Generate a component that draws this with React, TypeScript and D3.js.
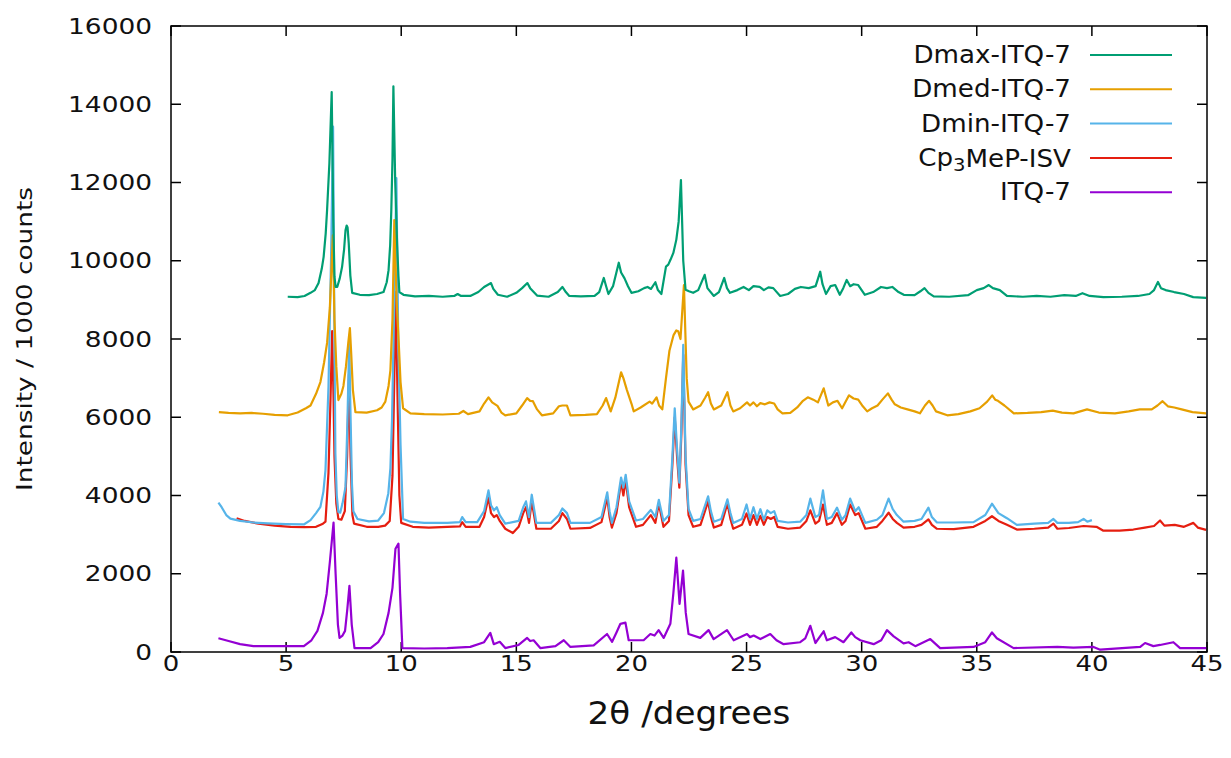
import React from "react";
import * as d3 from "d3";

type Pt = [number, number];

const xTicks = [0, 5, 10, 15, 20, 25, 30, 35, 40, 45];
const yTicks = [0, 2000, 4000, 6000, 8000, 10000, 12000, 14000, 16000];

const seriesNames = ["Dmax-ITQ-7", "Dmed-ITQ-7", "Dmin-ITQ-7", "Cp3MeP-ISV", "ITQ-7"];
const seriesColors = ["#009e73", "#e69f00", "#56b4e9", "#e51e10", "#9400d3"];

const dmaxData: Pt[] = [
[5.07,9080],[5.5,9070],[5.8,9100],[6.06,9180],[6.25,9250],[6.41,9430],[6.55,9800],[6.63,10100],[6.72,10700],[6.78,11300],[6.88,12500],[6.98,14310],[7.05,11000],[7.1,9600],[7.15,9330],[7.22,9330],[7.33,9550],[7.43,9840],[7.52,10300],[7.58,10780],[7.63,10900],[7.67,10850],[7.72,10450],[7.79,9620],[7.87,9180],[8.2,9130],[8.6,9120],[8.95,9150],[9.23,9200],[9.37,9450],[9.45,9760],[9.52,10400],[9.57,11300],[9.62,12600],[9.66,14460],[9.74,12000],[9.82,10450],[9.88,9600],[9.92,9200],[10.1,9130],[10.6,9090],[11.2,9100],[11.8,9080],[12.3,9100],[12.45,9150],[12.6,9100],[13.0,9100],[13.35,9200],[13.6,9330],[13.75,9380],[13.9,9430],[14.0,9280],[14.2,9130],[14.6,9080],[15.0,9180],[15.25,9300],[15.48,9430],[15.6,9300],[15.9,9110],[16.4,9080],[16.8,9200],[17.0,9330],[17.15,9200],[17.3,9100],[17.8,9090],[18.4,9100],[18.6,9200],[18.8,9560],[18.9,9350],[19.0,9150],[19.2,9350],[19.45,9950],[19.55,9700],[19.7,9550],[19.85,9350],[20.0,9180],[20.3,9220],[20.55,9300],[20.7,9330],[20.85,9280],[21.04,9450],[21.15,9250],[21.3,9150],[21.5,9850],[21.6,9900],[21.7,10030],[21.82,10200],[21.95,10540],[22.05,11000],[22.15,12060],[22.25,10000],[22.35,9260],[22.5,9220],[22.68,9180],[22.9,9250],[23.18,9640],[23.3,9300],[23.58,9100],[23.8,9200],[24.03,9560],[24.15,9300],[24.28,9180],[24.6,9250],[24.87,9330],[25.1,9250],[25.3,9350],[25.57,9330],[25.75,9250],[25.95,9320],[26.16,9300],[26.46,9100],[26.8,9150],[27.1,9280],[27.36,9330],[27.7,9300],[28.0,9350],[28.2,9720],[28.3,9400],[28.45,9150],[28.65,9350],[28.85,9380],[29.05,9130],[29.2,9300],[29.35,9510],[29.5,9350],[29.65,9400],[29.85,9380],[30.14,9130],[30.5,9200],[30.84,9330],[31.1,9300],[31.33,9330],[31.6,9200],[31.83,9130],[32.3,9120],[32.55,9220],[32.73,9300],[32.9,9180],[33.13,9090],[33.8,9080],[34.62,9120],[35.0,9250],[35.3,9300],[35.52,9380],[35.7,9300],[36.0,9250],[36.31,9100],[37.0,9080],[37.6,9100],[38.2,9080],[38.8,9120],[39.3,9100],[39.59,9170],[39.9,9100],[40.5,9070],[41.3,9080],[42.0,9100],[42.5,9150],[42.7,9250],[42.87,9460],[43.0,9300],[43.2,9250],[43.57,9200],[44.0,9150],[44.4,9070],[44.96,9050]
];

const dmedData: Pt[] = [
[2.08,6130],[2.5,6110],[3.0,6100],[3.5,6110],[4.0,6090],[4.5,6060],[5.07,6050],[5.5,6120],[5.86,6230],[6.06,6300],[6.3,6600],[6.49,6900],[6.65,7400],[6.78,7900],[6.9,8800],[7.03,10650],[7.1,8500],[7.18,7300],[7.27,6440],[7.4,6600],[7.49,6800],[7.6,7300],[7.7,7900],[7.77,8280],[7.83,7600],[7.9,6700],[8.01,6130],[8.5,6120],[8.95,6180],[9.15,6250],[9.31,6400],[9.45,6800],[9.53,7200],[9.62,8500],[9.7,11040],[9.8,9000],[9.9,7800],[9.97,6900],[10.08,6230],[10.4,6100],[11.0,6080],[11.8,6070],[12.5,6090],[12.7,6160],[12.9,6080],[13.4,6150],[13.6,6350],[13.79,6510],[13.95,6380],[14.18,6290],[14.35,6120],[14.52,6050],[15.0,6100],[15.25,6300],[15.47,6490],[15.6,6420],[15.72,6410],[15.9,6200],[16.11,6050],[16.6,6100],[16.85,6280],[17.0,6300],[17.2,6300],[17.35,6050],[18.0,6060],[18.5,6080],[18.75,6300],[18.9,6490],[19.1,6150],[19.3,6500],[19.55,7150],[19.65,7000],[19.8,6700],[20.0,6350],[20.1,6150],[20.4,6250],[20.79,6400],[20.9,6350],[21.09,6510],[21.2,6300],[21.34,6200],[21.5,7000],[21.65,7700],[21.83,8100],[21.95,8220],[22.03,8200],[22.13,8000],[22.28,9380],[22.4,7000],[22.48,6400],[22.68,6200],[23.0,6300],[23.2,6500],[23.33,6640],[23.45,6350],[23.58,6200],[23.9,6300],[24.17,6640],[24.3,6300],[24.42,6150],[24.72,6230],[25.02,6380],[25.15,6300],[25.3,6380],[25.45,6280],[25.6,6360],[25.8,6330],[26.0,6380],[26.2,6350],[26.35,6200],[26.56,6100],[26.9,6110],[27.2,6250],[27.45,6420],[27.66,6510],[27.9,6450],[28.1,6380],[28.35,6740],[28.55,6300],[28.75,6380],[28.95,6420],[29.15,6230],[29.45,6560],[29.65,6480],[29.85,6450],[30.05,6280],[30.24,6150],[30.45,6230],[30.69,6300],[30.9,6450],[31.14,6610],[31.3,6450],[31.44,6330],[31.7,6250],[31.99,6200],[32.3,6150],[32.53,6100],[32.75,6300],[32.93,6420],[33.08,6300],[33.23,6150],[33.72,6050],[34.2,6080],[34.72,6150],[35.12,6230],[35.45,6400],[35.67,6560],[35.8,6450],[35.92,6420],[36.2,6300],[36.61,6100],[37.2,6110],[37.8,6130],[38.3,6170],[38.7,6120],[39.2,6100],[39.79,6200],[40.3,6120],[41.0,6100],[41.6,6150],[42.08,6200],[42.6,6200],[42.85,6300],[43.07,6410],[43.3,6280],[43.58,6250],[43.9,6200],[44.37,6130],[44.96,6100]
];

const dminData: Pt[] = [
[2.06,3820],[2.2,3700],[2.4,3500],[2.58,3410],[3.0,3350],[3.58,3310],[4.2,3290],[5.0,3270],[5.77,3260],[6.06,3370],[6.3,3550],[6.49,3710],[6.62,4100],[6.71,4650],[6.84,6770],[6.95,10000],[7.04,13430],[7.1,8000],[7.14,5080],[7.2,4000],[7.27,3580],[7.35,3560],[7.45,3800],[7.58,4220],[7.66,5800],[7.74,7970],[7.8,6000],[7.86,4300],[7.92,3600],[8.1,3400],[8.6,3340],[9.0,3360],[9.25,3550],[9.44,4060],[9.53,4700],[9.6,5930],[9.7,9000],[9.79,12110],[9.87,8000],[9.97,5300],[10.08,3400],[10.4,3330],[11.0,3300],[12.0,3300],[12.55,3320],[12.65,3450],[12.8,3320],[13.3,3320],[13.6,3600],[13.79,4130],[13.9,3750],[14.03,3620],[14.15,3700],[14.28,3500],[14.52,3280],[15.1,3350],[15.3,3700],[15.42,3850],[15.55,3450],[15.67,4020],[15.87,3300],[16.5,3300],[16.85,3500],[17.0,3670],[17.2,3550],[17.35,3300],[18.2,3300],[18.7,3450],[18.95,4080],[19.05,3600],[19.15,3300],[19.35,3700],[19.55,4460],[19.65,4200],[19.75,4530],[19.9,3850],[20.2,3360],[20.5,3400],[20.84,3630],[21.04,3450],[21.19,3890],[21.39,3350],[21.63,3500],[21.78,5000],[21.88,6230],[21.98,5200],[22.08,4330],[22.17,5800],[22.25,7850],[22.35,5000],[22.48,3660],[22.68,3350],[23.0,3400],[23.33,3980],[23.45,3600],[23.58,3330],[23.9,3400],[24.17,3900],[24.3,3550],[24.42,3300],[24.8,3400],[25.0,3770],[25.15,3400],[25.3,3700],[25.45,3400],[25.6,3650],[25.75,3380],[25.9,3620],[26.05,3550],[26.2,3600],[26.35,3350],[26.8,3310],[27.33,3330],[27.6,3500],[27.77,3920],[27.99,3450],[28.15,3500],[28.32,4130],[28.49,3400],[28.7,3450],[28.93,3690],[29.14,3380],[29.3,3500],[29.5,3920],[29.72,3600],[29.87,3700],[30.16,3300],[30.66,3380],[30.9,3500],[31.17,3920],[31.35,3650],[31.53,3500],[31.82,3330],[32.3,3350],[32.6,3400],[32.9,3690],[33.05,3450],[33.27,3310],[34.0,3310],[34.86,3320],[35.37,3500],[35.66,3790],[35.94,3550],[36.31,3420],[36.74,3250],[37.5,3280],[38.1,3300],[38.33,3400],[38.5,3300],[39.0,3300],[39.4,3320],[39.64,3400],[39.8,3330],[40.0,3370]
];

const cp3Data: Pt[] = [
[2.85,3420],[3.2,3350],[3.8,3280],[4.5,3230],[5.2,3200],[5.8,3190],[6.3,3200],[6.6,3280],[6.71,3330],[6.84,4580],[6.93,6500],[7.0,8200],[7.06,6500],[7.1,5000],[7.18,3800],[7.27,3400],[7.4,3380],[7.55,3600],[7.65,5000],[7.73,7100],[7.8,5000],[7.88,3500],[7.95,3280],[8.5,3200],[9.0,3200],[9.3,3230],[9.5,3350],[9.62,4500],[9.7,7000],[9.76,9200],[9.84,6500],[9.92,4000],[10.0,3300],[10.5,3200],[11.2,3180],[12.0,3200],[12.55,3210],[12.65,3320],[12.8,3200],[13.4,3200],[13.6,3450],[13.79,3950],[13.9,3550],[14.03,3450],[14.15,3500],[14.28,3350],[14.52,3150],[14.85,3040],[15.1,3200],[15.3,3550],[15.42,3700],[15.55,3300],[15.67,3850],[15.87,3150],[16.5,3150],[16.85,3350],[17.0,3550],[17.2,3400],[17.35,3150],[18.2,3170],[18.7,3320],[18.95,3950],[19.05,3450],[19.15,3180],[19.35,3550],[19.55,4350],[19.65,4000],[19.75,4400],[19.9,3700],[20.2,3200],[20.5,3250],[20.84,3500],[21.04,3300],[21.19,3800],[21.39,3200],[21.63,3350],[21.78,4800],[21.88,6000],[21.98,5000],[22.08,4200],[22.17,5600],[22.25,7600],[22.35,4800],[22.48,3500],[22.68,3200],[23.0,3250],[23.33,3850],[23.45,3450],[23.58,3180],[23.9,3250],[24.17,3800],[24.3,3400],[24.42,3150],[24.8,3250],[25.0,3540],[25.15,3250],[25.3,3500],[25.45,3250],[25.6,3480],[25.75,3250],[25.9,3450],[26.05,3400],[26.2,3450],[26.35,3200],[26.8,3150],[27.33,3180],[27.6,3350],[27.77,3620],[27.99,3280],[28.15,3350],[28.32,3770],[28.49,3250],[28.7,3300],[28.93,3550],[29.14,3250],[29.3,3350],[29.5,3770],[29.72,3500],[29.87,3550],[30.16,3150],[30.66,3200],[30.9,3350],[31.17,3560],[31.35,3400],[31.53,3300],[31.82,3180],[32.3,3200],[32.6,3250],[32.9,3390],[33.05,3250],[33.27,3150],[34.0,3140],[34.86,3200],[35.37,3350],[35.66,3470],[35.94,3350],[36.31,3250],[36.74,3130],[37.5,3150],[38.1,3180],[38.33,3280],[38.5,3150],[39.0,3170],[39.64,3220],[40.2,3200],[40.5,3100],[41.2,3100],[41.8,3130],[42.3,3180],[42.7,3220],[42.96,3360],[43.15,3230],[43.6,3250],[44.0,3200],[44.41,3300],[44.6,3180],[44.96,3120]
];

const itq7Data: Pt[] = [
[2.06,350],[2.5,280],[3.0,200],[3.58,150],[4.5,150],[5.77,150],[6.1,300],[6.36,540],[6.6,1000],[6.76,1490],[6.9,2300],[7.06,3310],[7.15,2000],[7.25,700],[7.32,360],[7.45,420],[7.56,540],[7.66,1100],[7.75,1690],[7.85,700],[7.97,100],[8.67,100],[9.0,250],[9.23,460],[9.45,1000],[9.62,1640],[9.75,2640],[9.88,2770],[9.95,1500],[10.05,100],[11.0,90],[12.0,100],[13.0,130],[13.6,250],[13.87,490],[14.02,200],[14.28,260],[14.52,100],[15.1,180],[15.47,360],[15.6,280],[15.75,300],[16.04,100],[16.7,150],[17.06,300],[17.35,130],[18.36,170],[18.94,460],[19.16,260],[19.35,500],[19.52,720],[19.74,750],[19.88,300],[20.53,300],[20.82,460],[21.0,420],[21.18,560],[21.4,360],[21.69,720],[21.82,1500],[21.95,2410],[22.09,1230],[22.24,2080],[22.36,1000],[22.48,460],[22.99,360],[23.35,560],[23.57,330],[24.15,560],[24.44,300],[25.02,460],[25.15,380],[25.31,420],[25.6,330],[26.03,460],[26.3,300],[26.61,200],[27.33,250],[27.55,350],[27.77,670],[27.99,230],[28.35,530],[28.49,300],[28.85,380],[29.21,250],[29.55,500],[29.72,380],[29.94,300],[30.52,200],[30.85,300],[31.1,560],[31.39,400],[31.82,220],[32.04,250],[32.33,150],[32.98,330],[33.41,100],[34.86,130],[35.37,250],[35.66,500],[35.87,350],[36.6,100],[38.5,130],[39.2,110],[40.07,130],[40.36,60],[42.1,130],[42.31,230],[42.67,150],[42.96,180],[43.54,250],[43.83,100],[45.0,100]
];

const allData: Pt[][] = [dmaxData, dmedData, dminData, cp3Data, itq7Data];

const W = 1231;
const H = 758;
const M = { left: 171, right: 1207, top: 26, bottom: 652 };
const FONT = "'DejaVu Sans', sans-serif";

export default function App() {
  const x = d3.scaleLinear().domain([0, 45]).range([M.left, M.right]);
  const y = d3.scaleLinear().domain([0, 16000]).range([M.bottom, M.top]);
  const line = d3
    .line<Pt>()
    .x((d) => x(d[0]))
    .y((d) => y(d[1]));

  const drawOrder = [4, 3, 2, 1, 0];
  const tickLen = 10;
  const legendX1 = 1090;
  const legendX2 = 1172;
  const legendTextX = 1071;
  const legendY0 = 55;
  const legendDy = 34.3;

  return (
    <svg
      width={W}
      height={H}
      style={{ position: "absolute", left: 0, top: 0, background: "#fff" }}
      fontFamily={FONT}
    >
      <rect x={0} y={0} width={W} height={H} fill="#fff" />
      <defs>
        <clipPath id="plotclip">
          <rect x={M.left} y={M.top} width={M.right - M.left} height={M.bottom - M.top} />
        </clipPath>
      </defs>
      {xTicks.map((t) => (
        <g key={"xt" + t}>
          <line x1={x(t)} x2={x(t)} y1={M.bottom} y2={M.bottom - tickLen} stroke="#000" strokeWidth={1.5} />
          <line x1={x(t)} x2={x(t)} y1={M.top} y2={M.top + tickLen} stroke="#000" strokeWidth={1.5} />
          <text
            transform={`translate(${x(t)}, ${M.bottom + 19}) scale(1.18,1)`}
            textAnchor="middle"
            fontSize={22}
            fill="#111"
          >
            {t}
          </text>
        </g>
      ))}
      {yTicks.map((t) => (
        <g key={"yt" + t}>
          <line x1={M.left} x2={M.left + tickLen} y1={y(t)} y2={y(t)} stroke="#000" strokeWidth={1.5} />
          <line x1={M.right} x2={M.right - tickLen} y1={y(t)} y2={y(t)} stroke="#000" strokeWidth={1.5} />
          <text
            transform={`translate(152, ${y(t)}) scale(1.2,1)`}
            textAnchor="end"
            dominantBaseline="central"
            fontSize={22}
            fill="#111"
          >
            {t}
          </text>
        </g>
      ))}
      <g clipPath="url(#plotclip)">
        {drawOrder.map((i) => (
          <path
            key={"s" + i}
            d={line(allData[i]) || ""}
            fill="none"
            stroke={seriesColors[i]}
            strokeWidth={2.2}
            strokeLinejoin="round"
          />
        ))}
      </g>
      <rect
        x={M.left}
        y={M.top}
        width={M.right - M.left}
        height={M.bottom - M.top}
        fill="none"
        stroke="#000"
        strokeWidth={1.5}
      />
      {seriesNames.map((name, i) => {
        const ly = legendY0 + i * legendDy;
        return (
          <g key={"lg" + i}>
            <text
              transform={`translate(${legendTextX}, ${ly}) scale(1.09,1)`}
              textAnchor="end"
              dominantBaseline="central"
              fontSize={24}
              fill="#111"
            >
              {name === "Cp3MeP-ISV" ? (
                <>
                  Cp<tspan fontSize={18} dy={6}>3</tspan>
                  <tspan dy={-6}>MeP-ISV</tspan>
                </>
              ) : (
                name
              )}
            </text>
            <line x1={legendX1} x2={legendX2} y1={ly} y2={ly} stroke={seriesColors[i]} strokeWidth={2} />
          </g>
        );
      })}
      <text
        transform={`translate(${(M.left + M.right) / 2}, 724) scale(1.07,1)`}
        textAnchor="middle"
        fontSize={32}
        fill="#111"
      >
        2θ /degrees
      </text>
      <text
        transform={`translate(24, ${(M.top + M.bottom) / 2}) rotate(-90) scale(1.2,1)`}
        textAnchor="middle"
        dominantBaseline="central"
        fontSize={22}
        fill="#111"
      >
        Intensity / 1000 counts
      </text>
    </svg>
  );
}
